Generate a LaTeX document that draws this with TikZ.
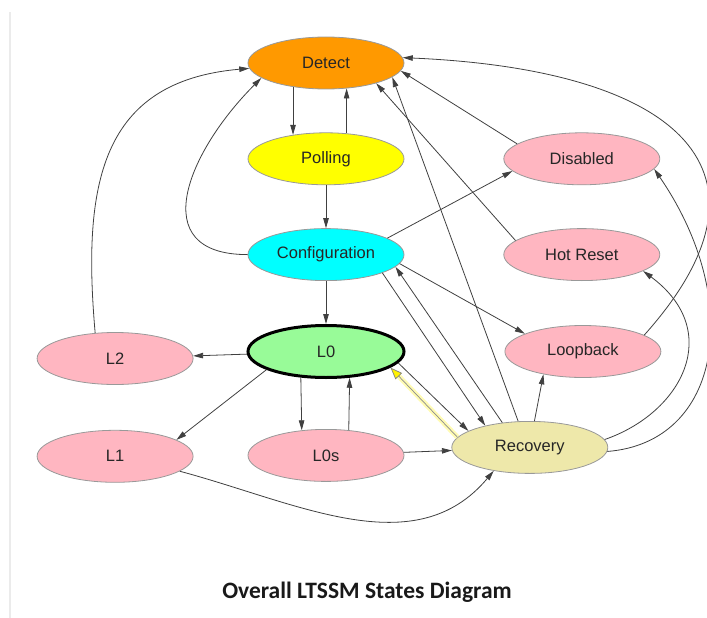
\documentclass[tikz,border=0pt]{standalone}
\usepackage{fontspec}
\setmainfont{Liberation Sans}
\newfontfamily\titlefont{Carlito}
\usepackage{tikz}
\usetikzlibrary{shapes.geometric, arrows.meta, positioning}

\definecolor{detectorange}{HTML}{FF9900}
\definecolor{pollyellow}{HTML}{FFFF00}
\definecolor{configcyan}{HTML}{00FFFF}
\definecolor{lzerogreen}{HTML}{98FB98}
\definecolor{lowpink}{HTML}{FFB6C1}
\definecolor{recgold}{HTML}{EEE8AA}

\begin{document}
\begin{tikzpicture}[
        x=1pt, y=-1pt,
        % Rows 43pt apart, columns 53pt apart
        node distance=43pt and 53pt,
        % States: ellipses with a thin gray outline
        state/.style = {ellipse, draw=black!40, line width=0.8pt, minimum width=156pt,
                        minimum height=52pt, inner sep=0pt,
                        font=\fontsize{16.5}{20}\selectfont, text=black!85},
        lowstate/.style = {state, fill=lowpink},
        % Arrows: thin dark gray, filled tips
        arrow/.style = {draw, line width=0.8pt, color=black!75, -{Triangle[length=10pt, width=5.5pt]}},
        halo/.style = {draw, line width=5pt, color=yellow!30, shorten >=9pt},
        yellow_arrow/.style = {draw, line width=0.7pt, color=black!45,
                               -{Triangle[length=12pt, width=9pt, fill=yellow, color=black!50]}}
    ]

    \useasboundingbox (0,0) rectangle (707,618);
    \draw[black!8, line width=1.5pt] (10,12) -- (10,618);

    % --- Middle column ---
    \node[state, fill=detectorange] (detect) at (326,63) {Detect};
    \node[state, fill=pollyellow, below=of detect] (polling) {Polling};
    \node[state, fill=configcyan, below=of polling] (config) {Configuration};
    \node[state, fill=lzerogreen, draw=black, line width=3pt, below=of config] (l0) {L0};
    \node[lowstate, below=50pt of l0] (l0s) {L0s};

    % --- Right column ---
    \node[lowstate, right=99pt of polling] (disabled) {Disabled};
    \node[lowstate, right=99pt of config] (hotreset) {Hot Reset};
    \node[lowstate, right=99pt of l0] (loopback) {Loopback};
    \node[state, fill=recgold, right=47pt of l0s, yshift=8pt] (recovery) {Recovery};

    % --- Left column ---
    \node[lowstate, left=of l0, yshift=-7pt] (l2) {L2};
    \node[lowstate, below=45pt of l2] (l1) {L1};

    % --- Title ---
    \node[font=\titlefont\bfseries\fontsize{23.5}{28}\selectfont, text=black!90] (title)
          at (367,592) {Overall LTSSM States Diagram};

    % --- Edges (Arrows) ---
    % Link training
    \draw[arrow] (detect.216) -- (polling.144);
    \draw[arrow] (polling.51) -- (detect.309);
    \draw[arrow] (polling) -- (config);
    \draw[arrow] (config) -- (l0);
    \draw[arrow] (config.west) to[out=180, in=225, looseness=1.5] (detect.193);
    \draw[arrow] (config.15) -- (disabled.190);
    \draw[arrow] (config.353) -- (loopback.163);
    \draw[arrow] (config.342) -- (recovery.154);
    \draw[arrow] (recovery.138) -- (config.350);

    % Power states
    \draw[arrow] (l0) -- (l2);
    \draw[arrow] (l0.197) -- (l1.15);
    \draw[arrow] (l0.226) -- (l0s.134);
    \draw[arrow] (l0s.48) -- (l0.312);
    \draw[arrow] (l2.128) to[out=95, in=185, looseness=1.25] (detect.184);
    \draw[arrow] (l1.347) to[out=-15, in=230] (recovery.213);
    \draw[arrow] (l0s) -- (recovery);

    % Recovery
    \draw[arrow] (l0.351) -- (recovery.165);
    \draw[halo] (recovery.172) -- (l0.346);
    \draw[yellow_arrow] (recovery.172) -- (l0.346);
    \draw[arrow] (recovery.80) -- (loopback.210);
    \draw[arrow] (recovery.114) -- (detect.348);
    \draw[arrow] (recovery.6) .. controls +(78,-27) and +(81,60) .. (hotreset.345);
    \draw[arrow] (recovery.357) .. controls +(115,-9) and +(90,131) .. (disabled.352);

    % Back to Detect
    \draw[arrow] (hotreset.168) -- (detect.338);
    \draw[arrow] (disabled.167) -- (detect.354);
    \draw[arrow] (loopback.15) .. controls +(146,-163) and +(278,12) .. (detect.4);

\end{tikzpicture}
\end{document}
